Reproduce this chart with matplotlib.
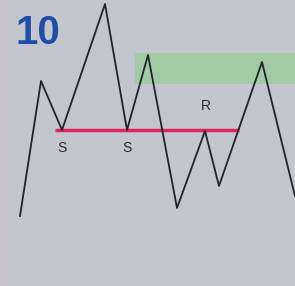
import matplotlib
matplotlib.use("Agg")
import matplotlib.pyplot as plt
from matplotlib.patches import Rectangle

# zigzag price path (x = bar index, y = price level)
path_x = [20, 41, 62, 105, 127, 148, 177, 205, 219, 262, 295]
path_y = [70, 205, 156, 282, 156, 231, 78, 155, 100, 224, 90]

# support/resistance level and labels
level_y = 156
level_x = [55, 239]
labels = ["S", "S", "R"]
label_x = [62, 127, 206]
label_y = [138, 138, 180]

# supply zone
zone_x = [135, 295]
zone_y = [202, 233]

title = "10"

bg = "#c4c6cf"
fig = plt.figure(figsize=(2.95, 2.86), dpi=100, facecolor=bg)
ax = fig.add_axes([0, 0, 1, 1])
ax.set_facecolor(bg)
ax.set_xlim(0, 295)
ax.set_ylim(0, 286)
ax.axis('off')

# faint pinkish strip on left edge
ax.add_patch(Rectangle((0, 0), 13, 286, color="#c8c4cd", lw=0, zorder=0))

ax.add_patch(Rectangle((zone_x[0], zone_y[0]), zone_x[1] - zone_x[0], zone_y[1] - zone_y[0],
                       facecolor="#a2caa4", edgecolor="none", zorder=1))

ax.plot(level_x, [level_y, level_y], color="#e0245e", lw=2.5, zorder=2, solid_capstyle='butt')
ax.plot(path_x, path_y, color="#222428", lw=1.3, zorder=3)

for t, x, y in zip(labels, label_x, label_y):
    ax.text(x, y, t, ha='center', va='center', fontsize=10, color="#2a2a2e",
            family="Liberation Sans")

ax.text(15, 253, title, ha='left', va='center', fontsize=29, fontweight='bold',
        color="#1f4ea6", family="Liberation Sans")

fig.savefig("out.png", dpi=100, facecolor=bg)
